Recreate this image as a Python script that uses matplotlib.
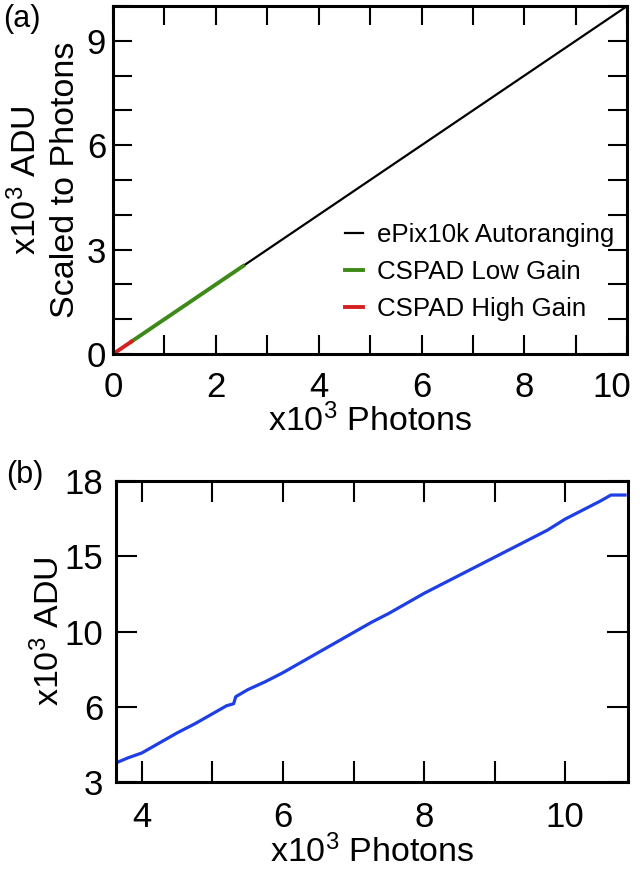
import numpy as np
import matplotlib
matplotlib.use("Agg")
import matplotlib.pyplot as plt
import matplotlib.transforms as mtransforms
from matplotlib.ticker import MultipleLocator, FixedLocator

plt.rcParams["font.family"] = ["Liberation Sans", "DejaVu Sans"]
plt.rcParams["mathtext.default"] = "regular"

# panel (a): linear response, x10^3 photons vs x10^3 ADU scaled to photons
epix_x = [0.0, 10.0]
epix_y = [0.0, 10.0]
lowgain_x = [0.36, 2.53]
lowgain_y = [0.36, 2.53]
highgain_x = [0.0, 0.36]
highgain_y = [0.0, 0.36]
a_xticks = [0, 2, 4, 6, 8, 10]

# panel (b): ePix10k autoranging response
b_x = [3.63, 3.8, 4.0, 4.25, 4.5, 4.75, 5.0, 5.2, 5.3, 5.33, 5.5, 5.75, 6.0,
       6.25, 6.5, 6.75, 7.0, 7.25, 7.5, 7.75, 8.0, 8.25, 8.5, 8.75, 9.0,
       9.25, 9.5, 9.75, 10.0, 10.25, 10.5, 10.65, 10.85]
b_y = [3.95, 4.2, 4.45, 4.95, 5.45, 5.9, 6.4, 6.8, 6.9, 7.25, 7.6, 8.0, 8.45,
       8.95, 9.45, 9.95, 10.45, 10.95, 11.4, 11.9, 12.4, 12.85, 13.3, 13.75, 14.2,
       14.65, 15.1, 15.55, 16.1, 16.55, 17.0, 17.3, 17.3]
b_yticks = [3, 6.75, 10.5, 14.25, 18]
b_yticklabels = ["3", "6", "10", "15", "18"]

fig = plt.figure(figsize=(6.4, 8.72), dpi=100)
ax1 = fig.add_axes([0.1766, 0.594, 0.8034, 0.3991])
ax2 = fig.add_axes([0.181, 0.1032, 0.800, 0.3452])

# ---- panel (a)
ax1.plot(epix_x, epix_y, color="black", lw=1.6, label="ePix10k Autoranging")
ax1.plot(lowgain_x, lowgain_y, color="#3d8a18", lw=2.8, label="CSPAD Low Gain")
ax1.plot(highgain_x, highgain_y, color="#d42020", lw=2.8, label="CSPAD High Gain")
ax1.set_xlim(0, 10)
ax1.set_ylim(0, 10)
ax1.xaxis.set_major_locator(FixedLocator(a_xticks))
ax1.xaxis.set_minor_locator(MultipleLocator(1))
ax1.yaxis.set_major_locator(MultipleLocator(3))
ax1.yaxis.set_minor_locator(MultipleLocator(1))
ax1.set_xlabel("x10$^3$ Photons", fontsize=24.5, labelpad=0)
ax1.set_ylabel("x10$^3$ ADU\nScaled to Photons", fontsize=24.5, labelpad=4,
               linespacing=1.3)
leg = ax1.legend(loc="lower right", bbox_to_anchor=(0.975, 0.095), frameon=False,
                 fontsize=18.6, handlelength=0.7, handletextpad=0.55,
                 labelspacing=0.5, borderaxespad=0, borderpad=0)

# ---- panel (b)
ax2.plot(b_x, b_y, color="#1f3fe6", lw=2.3)
ax2.set_xlim(3.63, 10.89)
ax2.set_ylim(3, 18)
ax2.xaxis.set_major_locator(MultipleLocator(2))
ax2.xaxis.set_minor_locator(MultipleLocator(1))
ax2.yaxis.set_major_locator(FixedLocator(b_yticks))
ax2.set_yticklabels(b_yticklabels)
ax2.set_xlabel("x10$^3$ Photons", fontsize=24.5, labelpad=0)
ax2.set_ylabel("x10$^3$ ADU", fontsize=24.5, labelpad=-1)

for ax, tl, xpad, ypad in [(ax1, 14, 12, 5), (ax2, 15, 14, 9)]:
    for s in ax.spines.values():
        s.set_linewidth(2.2)
    ax.tick_params(which="both", direction="in", top=True, right=True,
                   length=tl, width=1.5, labelsize=25)
    ax.tick_params(axis="x", which="both", pad=xpad)
    ax.tick_params(axis="y", which="both", pad=ypad)

fig.text(0.005, 0.995, "(a)", fontsize=22, va="top", ha="left")
fig.text(0.010, 0.472, "(b)", fontsize=22, va="top", ha="left")

# the "10" label of panel (a) sits at the figure edge: nudge it left a bit
fig.canvas.draw()
last = ax1.xaxis.get_major_ticks()[len(a_xticks) - 1].label1
shift = mtransforms.ScaledTranslation(-11 / 72, 0, fig.dpi_scale_trans)
last.set_transform(last.get_transform() + shift)

fig.savefig("out.png", dpi=100)
